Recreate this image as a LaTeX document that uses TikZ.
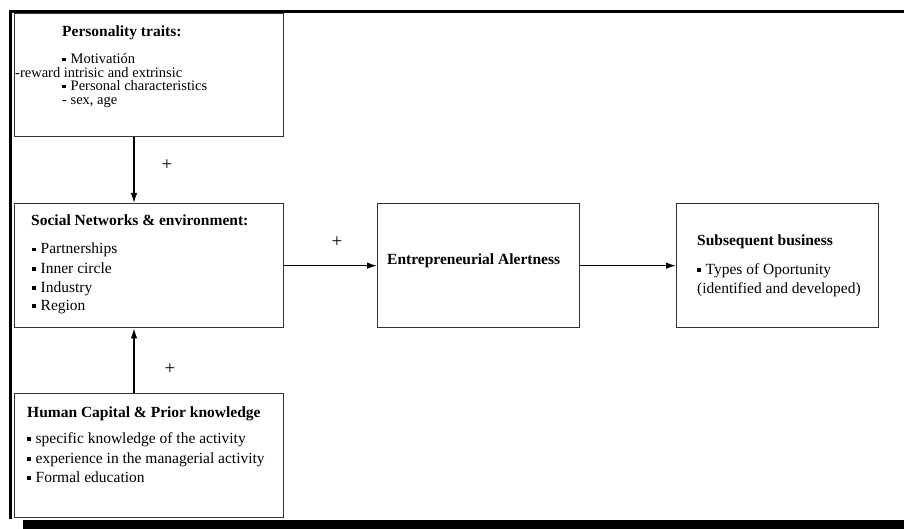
\documentclass[tikz,border=0pt]{standalone}
\usepackage{fontspec}
\setmainfont{Liberation Serif}
\usetikzlibrary{arrows.meta}
\newcommand{\mybul}{\rule[2.5pt]{3.5pt}{3.5pt}\hspace{5pt}}
\begin{document}
\begin{tikzpicture}[x=1pt,y=-1pt,
 box/.style={draw=black!80, line width=1.3pt, rectangle, inner sep=0pt, anchor=north west},
 txt/.style={anchor=base west, inner sep=0pt, font=\fontsize{15.5}{18}\selectfont},
 stxt/.style={anchor=base west, inner sep=0pt, text height=9.5pt, text depth=3pt, font=\fontsize{14.5}{16}\selectfont},
 ttl/.style={anchor=base west, inner sep=0pt, font=\fontsize{15.5}{18}\selectfont\bfseries},
 arr/.style={line width=1.3pt, -{Latex[length=10pt,width=6.5pt]}},
 plus/.style={inner sep=0pt, font=\fontsize{19}{20}\selectfont}]
\useasboundingbox (0,0) rectangle (904,529);
% frame
\fill[black] (8.5,10) rectangle (904,13.3);
\fill[black] (8.5,10) rectangle (12,519);
\fill[black] (23,520) rectangle (904,529);
% boxes
\node[box, minimum width=269pt, minimum height=123pt] (pt) at (14,13) {};
\node[box, minimum width=269pt, minimum height=124pt] (sn) at (14,203) {};
\node[box, minimum width=269pt, minimum height=124pt] (hc) at (14,393) {};
\node[box, minimum width=202pt, minimum height=124pt] (ea) at (377,203) {};
\node[box, minimum width=202pt, minimum height=124pt] (sb) at (676,203) {};
% personality text
\node[ttl] (pt0) at (62,37) {Personality traits:};
\node[stxt] (pt1) at (62,64) {\mybul Motivatión};
\node[stxt] (pt2) at (15,77.5) {-reward intrisic and extrinsic};
\node[stxt] (pt3) at (62,91) {\mybul Personal characteristics};
\node[stxt] (pt4) at (62,104.5) {- sex, age};
% social text
\node[ttl] (sn0) at (31,226) {Social Networks \& environment:};
\node[txt] (sn1) at (32,254) {\mybul Partnerships};
\node[txt] (sn2) at (32,273) {\mybul Inner circle};
\node[txt] (sn3) at (32,292) {\mybul Industry};
\node[txt] (sn4) at (32,310) {\mybul Region};
% human capital text
\node[ttl] (hc0) at (27,417) {Human Capital \& Prior knowledge};
\node[txt] (hc1) at (27,443) {\mybul specific knowledge of the activity};
\node[txt] (hc2) at (27,463) {\mybul experience in the managerial activity};
\node[txt] (hc3) at (27,482) {\mybul Formal education};
% EA text
\node[ttl] (ea0) at (387,264) {Entrepreneurial Alertness};
% subsequent text
\node[ttl] (sb0) at (697,246) {Subsequent business};
\node[txt] (sb1) at (697,274) {\mybul Types of Oportunity};
\node[txt] (sb2) at (697,293) {(identified and developed)};
% connectors
\coordinate (vx) at (134,0);
\draw[arr] (pt.south -| vx) -- (sn.north -| vx);
\draw[arr] (hc.north -| vx) -- (sn.south -| vx);
\draw[arr] (sn.east) -- (ea.west);
\draw[arr] (ea.east) -- (sb.west);
% plus labels
\node[plus] (p1) at (167,165) {+};
\node[plus] (p2) at (170,369) {+};
\node[plus] (p3) at (337,242) {+};
\end{tikzpicture}
\end{document}
